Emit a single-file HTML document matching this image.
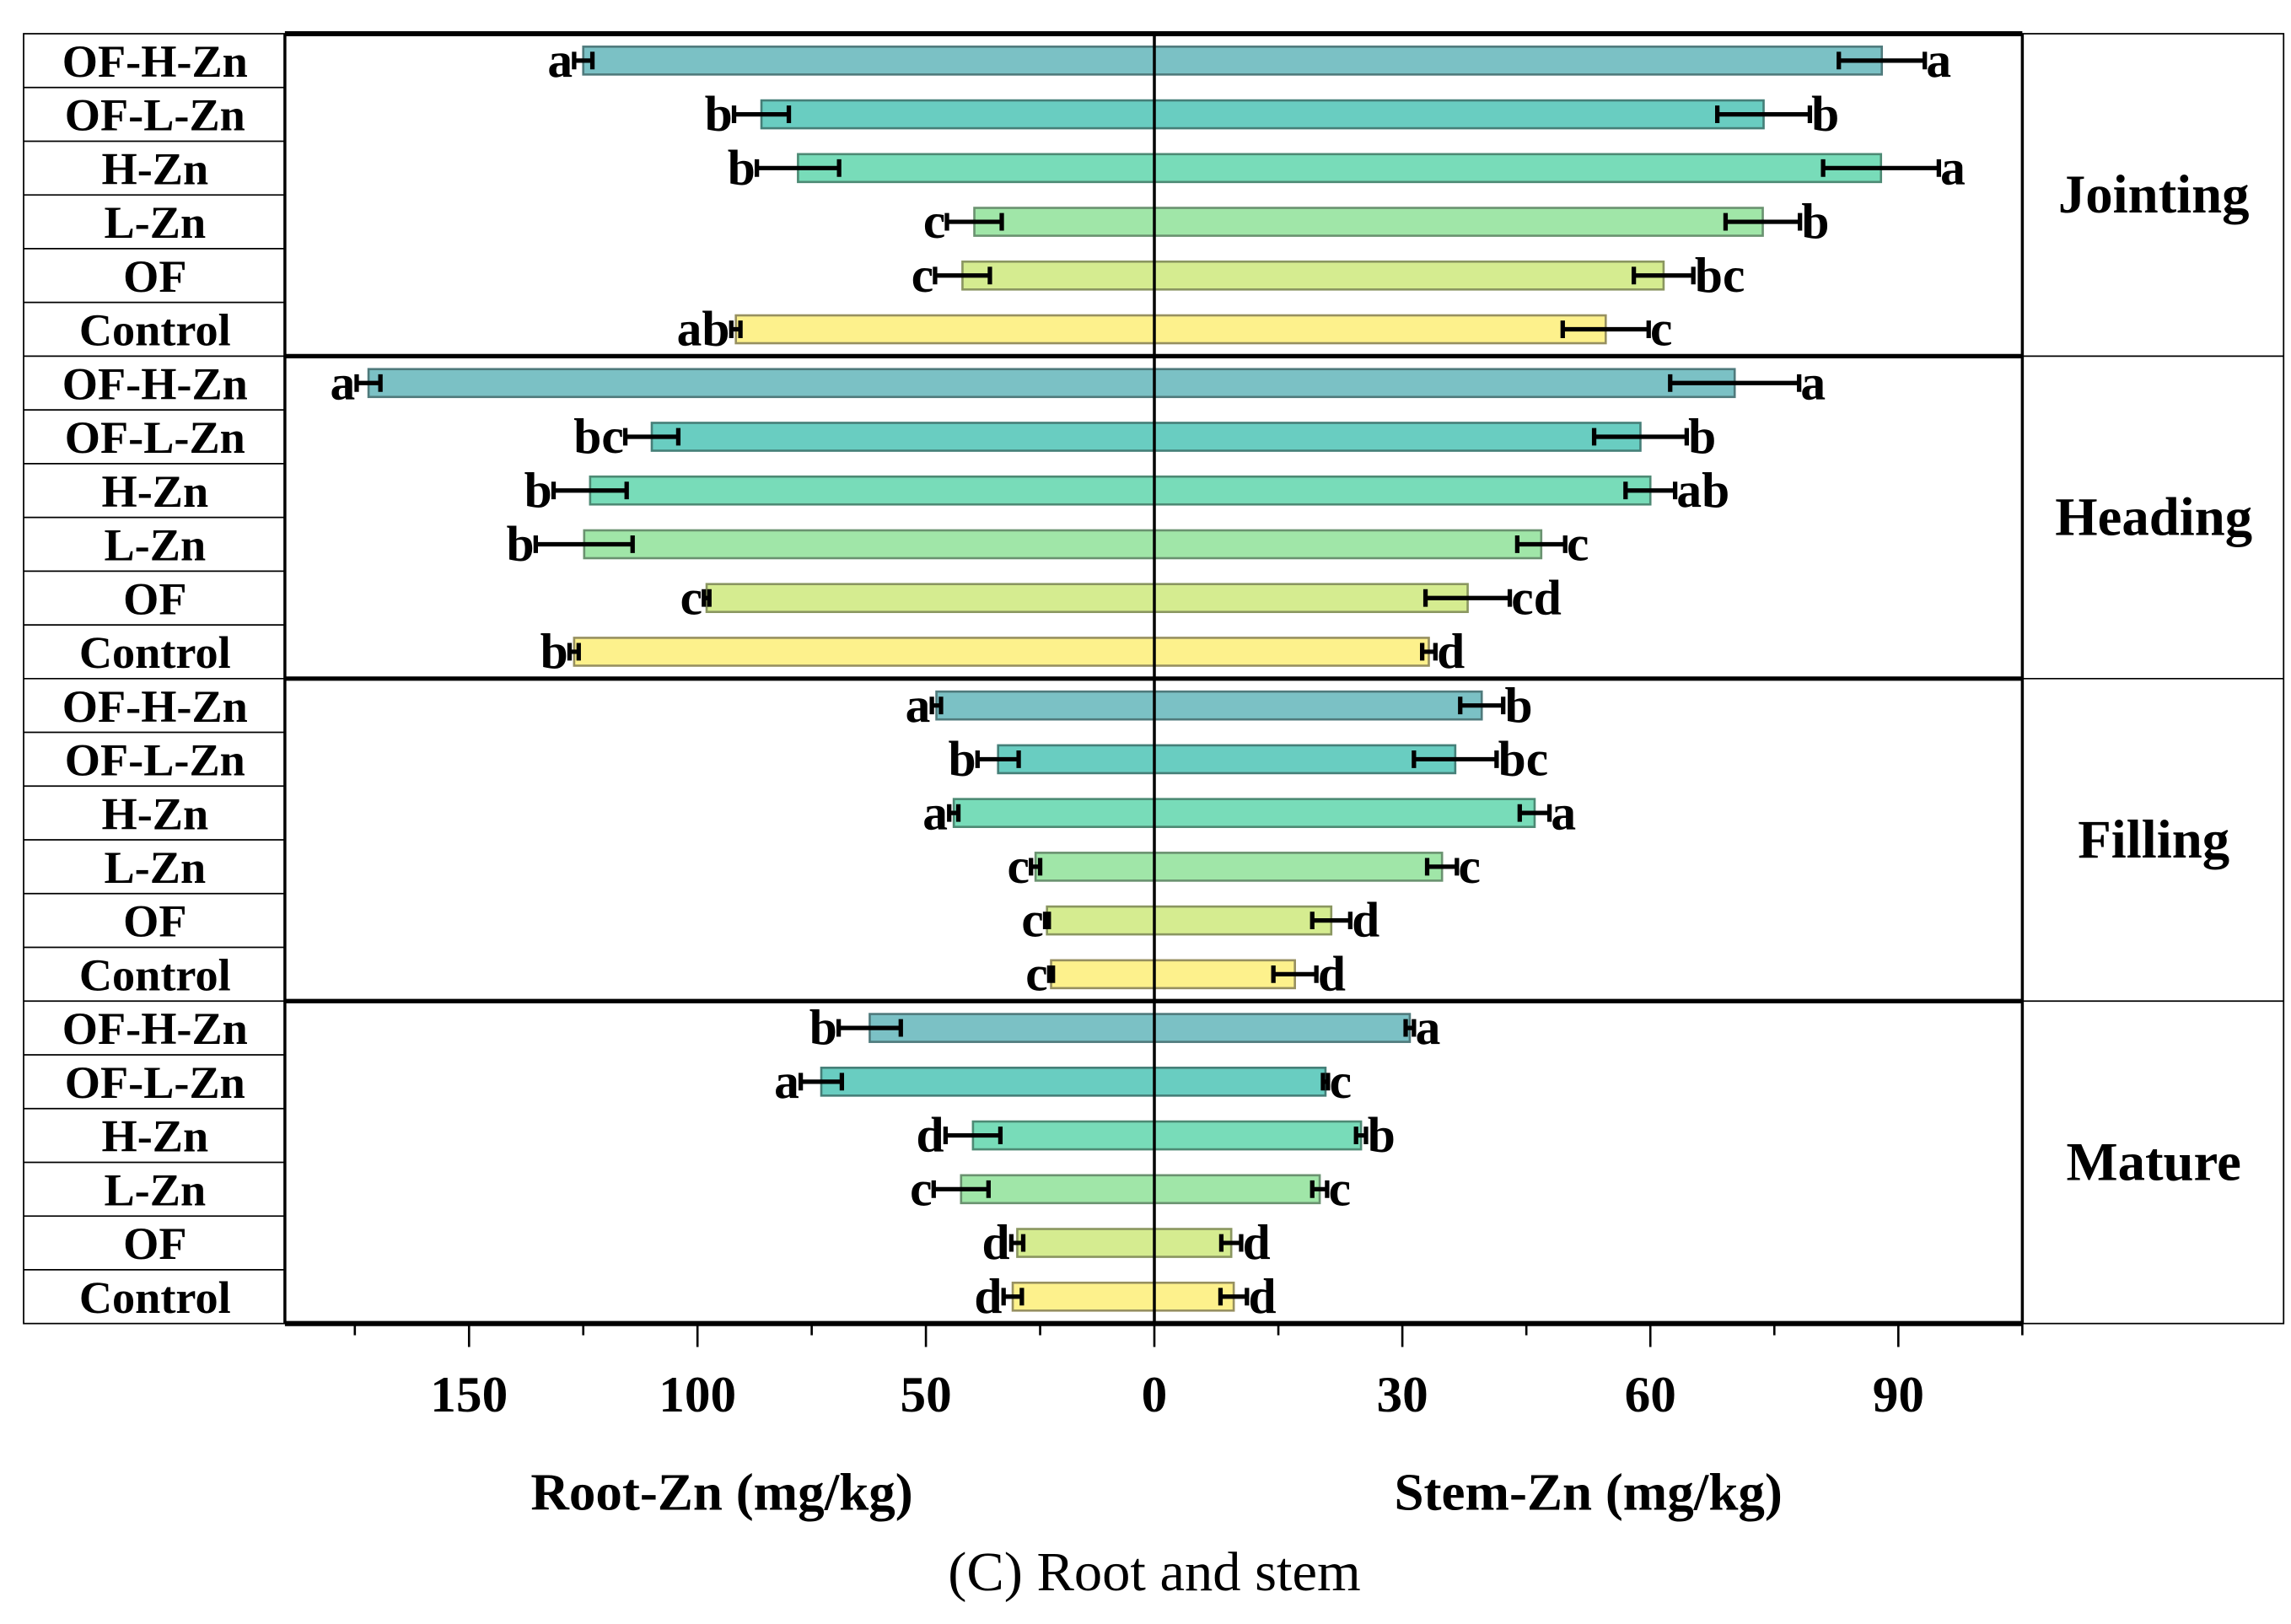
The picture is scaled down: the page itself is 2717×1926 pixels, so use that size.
<!DOCTYPE html>
<html><head><meta charset="utf-8"><style>
html,body{margin:0;padding:0;background:#fff;}
svg{display:block;}
text{font-family:"Liberation Serif",serif;font-weight:bold;fill:#000;}
</style></head><body>
<svg id="chart" width="2717" height="1926" viewBox="0 0 1552 1108" preserveAspectRatio="none" xmlns="http://www.w3.org/2000/svg">
<g id="g"></g>
</svg>
<script>
const stages = ["Jointing","Heading","Filling","Mature"];
const treatments = ["OF-H-Zn","OF-L-Zn","H-Zn","L-Zn","OF","Control"];
const colors = ["#7bc1c5","#69cdc1","#78dcb9","#a0e6a8","#d5ec90","#fdf18c"];
const strokes = ["#4f7a7c","#457f78","#4d8a74","#6a9270","#8a9660","#979060"];
const rootVals = [125,86,78,39.4,42,91.6, 172,110,123.5,124.8,98,127, 47.7,34.2,43.9,26,23.5,22.6, 62.3,72.9,39.7,42.3,30,31];
const rootErr  = [2,6,9,6,6,1, 2.6,5.8,8,10.6,0.6,1, 1,4.5,1,1,0.4,0.4, 6.8,4.5,6,6,1.3,2];
const rootLetters = ["a","b","b","c","c","ab", "a","bc","b","b","c","b", "a","b","a","c","c","c", "b","a","d","c","d","d"];
const stemVals = [88,73.7,87.9,73.6,61.6,54.6, 70.2,58.8,60,46.8,37.9,33.2, 39.6,36.4,46,34.8,21.4,17, 30.9,20.7,25,20,9.3,9.6];
const stemErr  = [5.2,5.6,7,4.5,3.6,5.2, 7.8,5.6,3,2.9,5.1,0.8, 2.6,5,1.8,1.8,2.3,2.6, 0.5,0.3,0.6,0.9,1.2,1.6];
const stemLetters = ["a","b","a","b","bc","c", "a","b","ab","c","cd","d", "b","bc","a","c","d","d", "a","c","b","c","d","d"];
const rootTicks = [150,100,50,0];
const stemTicks = [30,60,90];

const NS="http://www.w3.org/2000/svg";
const g=document.getElementById('g');
const X0=782, L=193, R=1370, T=23, B=903;
const rowH=(B-T)/24;
const xRoot=v=>X0-v*3.095;
const xStem=v=>X0+v*5.6;
const yRow=i=>T+rowH*(i+0.5);
function el(tag,attrs,txt){const e=document.createElementNS(NS,tag);for(const k in attrs)e.setAttribute(k,attrs[k]);if(txt!==undefined)e.textContent=txt;g.appendChild(e);return e;}

el('rect',{x:16,y:T,width:L-16,height:B-T,fill:'none',stroke:'#000','stroke-width':1});
el('rect',{x:R,y:T,width:1547-R,height:B-T,fill:'none',stroke:'#000','stroke-width':1});
for(let i=0;i<24;i++){
  const y=T+rowH*i;
  if(i>0){const ln=el('line',{x1:16,x2:L,y1:y,y2:y,stroke:'#000','stroke-width':1});
  
  }
  const t=el('text',{x:105,y:yRow(i)+11,'font-size':31,'text-anchor':'middle'},treatments[i%6]);
  
  
}
stages.forEach((s,k)=>{
  const t=el('text',{x:1459,y:T+rowH*(6*k+3)+12,'font-size':37,'text-anchor':'middle'},s);
  
  
  if(k>0){const ln=el('line',{x1:R,x2:1547,y1:T+rowH*6*k,y2:T+rowH*6*k,stroke:'#000','stroke-width':1});
  
  }
});

for(let i=0;i<24;i++){
  const y=yRow(i), h=19, c=i%6;
  const rx=xRoot(rootVals[i]);
  const rb=el('rect',{x:rx,y:y-h/2,width:X0-rx,height:h,fill:colors[c],stroke:strokes[c],'stroke-width':1.5});
  
  
  const sx=xStem(stemVals[i]);
  const sb=el('rect',{x:X0,y:y-h/2,width:sx-X0,height:h,fill:colors[c],stroke:strokes[c],'stroke-width':1.5});
  
  
  const r1=xRoot(rootVals[i]-rootErr[i]), r2=xRoot(rootVals[i]+rootErr[i]);
  const re=el('path',{d:`M${r1} ${y}H${r2}M${r1} ${y-6}V${y+6}M${r2} ${y-6}V${y+6}`,stroke:'#000','stroke-width':3,fill:'none'});
  
  
  const s1=xStem(stemVals[i]-stemErr[i]), s2=xStem(stemVals[i]+stemErr[i]);
  const se=el('path',{d:`M${s1} ${y}H${s2}M${s1} ${y-6}V${y+6}M${s2} ${y-6}V${y+6}`,stroke:'#000','stroke-width':3,fill:'none'});
  
  
  const rl=el('text',{x:r2-1,y:y+11,'font-size':34,'text-anchor':'end'},rootLetters[i]);
  
  
  const sl=el('text',{x:s2+1,y:y+11,'font-size':34,'text-anchor':'start'},stemLetters[i]);
  
  
}

const zl=el('line',{x1:X0,x2:X0,y1:T,y2:B,stroke:'#000','stroke-width':2});


for(let k=1;k<4;k++){const ln=el('line',{x1:L,x2:R,y1:T+rowH*6*k,y2:T+rowH*6*k,stroke:'#000','stroke-width':3});

}
el('line',{x1:L,x2:R,y1:T,y2:T,stroke:'#000','stroke-width':3.5});
el('line',{x1:L,x2:L,y1:T,y2:B,stroke:'#000','stroke-width':2});
el('line',{x1:R,x2:R,y1:T,y2:B,stroke:'#000','stroke-width':2});
const xa=el('line',{x1:L,x2:R,y1:B,y2:B,stroke:'#000','stroke-width':3.5});



[175,125,75,25].forEach(v=>{el('line',{x1:xRoot(v),x2:xRoot(v),y1:B,y2:B+8,stroke:'#000','stroke-width':1.5});});
[15,45,75,105].forEach(v=>{el('line',{x1:xStem(v),x2:xStem(v),y1:B,y2:B+8,stroke:'#000','stroke-width':1.5});});
rootTicks.forEach(v=>{
  el('line',{x1:xRoot(v),x2:xRoot(v),y1:B,y2:B+16,stroke:'#000','stroke-width':1.5});
  const t=el('text',{x:xRoot(v),y:963,'font-size':35,'text-anchor':'middle'},String(v));
  
  
});
stemTicks.forEach(v=>{
  el('line',{x1:xStem(v),x2:xStem(v),y1:B,y2:B+16,stroke:'#000','stroke-width':1.5});
  const t=el('text',{x:xStem(v),y:963,'font-size':35,'text-anchor':'middle'},String(v));
  
  
});
</script>
<svg style="position:absolute;left:0;top:0" width="2717" height="1926" viewBox="0 0 1552 1108" preserveAspectRatio="none">
<text x="489" y="1030" font-size="36" text-anchor="middle">Root-Zn (mg/kg)</text>
<text x="1076" y="1030" font-size="36" text-anchor="middle">Stem-Zn (mg/kg)</text>
<text x="782" y="1085" font-size="38" text-anchor="middle" style="font-weight:normal">(C) Root and stem</text>
</svg>
</body></html>
